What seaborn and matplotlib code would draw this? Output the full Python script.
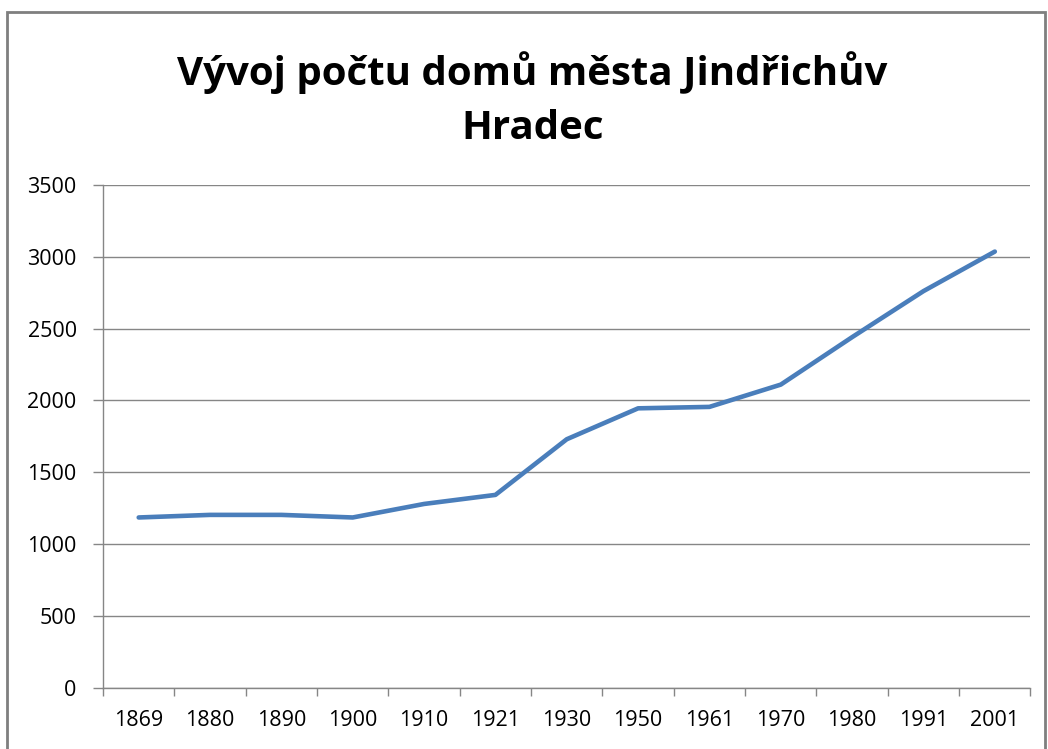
import matplotlib
matplotlib.use("Agg")
import matplotlib.pyplot as plt
import seaborn as sns
import pandas as pd
from matplotlib.patches import Rectangle

# data
years = ['1869', '1880', '1890', '1900', '1910', '1921', '1930',
         '1950', '1961', '1970', '1980', '1991', '2001']
houses = [1186, 1204, 1204, 1186, 1280, 1343, 1730,
          1945, 1955, 2110, 2440, 2760, 3035]
y_ticks = [0, 500, 1000, 1500, 2000, 2500, 3000, 3500]

title = 'Vývoj počtu domů města Jindřichův\nHradec'
line_color = '#4A7EBB'
grid_color = '#868686'

sns.set_style('white')
plt.rcParams['font.family'] = ['Open Sans', 'DejaVu Sans']
plt.rcParams['text.color'] = 'black'

df = pd.DataFrame({'rok': years, 'domy': houses})

fig = plt.figure(figsize=(10.48, 7.49), dpi=100)
ax = fig.add_axes([0.0983, 0.0814, 0.885, 0.672])

sns.lineplot(data=df, x='rok', y='domy', ax=ax, color=line_color,
             linewidth=3.3, sort=False)

n = len(years)
ax.set_xlim(-0.5, n - 0.5)
ax.set_ylim(0, 3500)
ax.set_yticks(y_ticks)
ax.set_xticks(range(n))
ax.set_xticklabels(years)
ax.set_xticks([i - 0.5 for i in range(n + 1)], minor=True)
ax.set_xlabel('')
ax.set_ylabel('')

ax.yaxis.grid(True, color=grid_color, linewidth=1)
ax.set_axisbelow(True)
for side in ['top', 'right']:
    ax.spines[side].set_visible(False)
for side in ['left', 'bottom']:
    ax.spines[side].set_color(grid_color)
    ax.spines[side].set_linewidth(1)

ax.tick_params(axis='x', which='major', length=0, pad=16, labelsize=15.5,
               labelcolor='black')
ax.tick_params(axis='x', which='minor', length=6, width=1, color=grid_color,
               direction='out', bottom=True)
ax.tick_params(axis='y', length=7, width=1, color=grid_color, direction='out',
               left=True, pad=12, labelsize=15.5, labelcolor='black')

fig.suptitle(title, x=0.508, y=0.932, fontsize=29, fontweight='bold',
             linespacing=1.5, color='black')

# outer chart border
fig.patches.append(Rectangle((0.007, -0.01), 0.99, 0.994, transform=fig.transFigure,
                             fill=False, edgecolor='#7f7f7f', linewidth=2))

fig.savefig('out.png', dpi=100)
